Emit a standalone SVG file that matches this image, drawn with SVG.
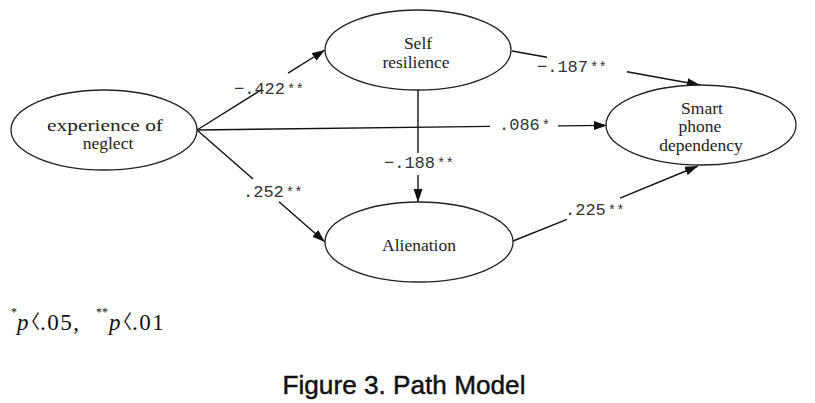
<svg xmlns="http://www.w3.org/2000/svg" width="815" height="403" viewBox="0 0 815 403">
<style>
.node ellipse{fill:#fff;stroke:#222;stroke-width:1.3}
.nl{font-family:"Liberation Serif","Times New Roman",serif;font-size:17.5px;fill:#222;text-anchor:middle}
.edge line{stroke:#111;stroke-width:1.4}
.el{font-family:"Liberation Mono","Courier New",monospace;font-size:17px;fill:#333}
.ast{font-size:14px}
.fn{font-family:"Liberation Serif","Times New Roman",serif;font-size:23px;fill:#111}
.sup{font-size:12px}
.br{font-family:"Noto Sans CJK KR","Noto Sans CJK SC",sans-serif;font-size:19px;font-feature-settings:"halt"}
.cap{font-family:"Liberation Sans",Arial,sans-serif;font-size:25px;fill:#111;stroke:#111;stroke-width:0.45;text-anchor:middle}
</style>
<defs>
<marker id="ah" markerUnits="userSpaceOnUse" markerWidth="14" markerHeight="10" refX="13" refY="5" orient="auto">
<path d="M0,0.5 L13,5 L0,9.5 z" fill="#111"/>
</marker>
</defs>
<g id="connectors" class="edge">
<line x1="197" y1="130" x2="262" y2="89.4"/>
<line x1="288" y1="73.1" x2="325" y2="50" marker-end="url(#ah)"/>
<line x1="197" y1="130" x2="253" y2="179"/>
<line x1="279" y1="201.8" x2="325" y2="242" marker-end="url(#ah)"/>
<line x1="197" y1="130" x2="490" y2="126.4"/>
<line x1="558" y1="125.9" x2="607" y2="125.4" marker-end="url(#ah)"/>
<line x1="418" y1="90" x2="418" y2="153"/>
<line x1="418" y1="175" x2="418" y2="202" marker-end="url(#ah)"/>
<line x1="512" y1="51" x2="547" y2="57.3"/>
<line x1="627" y1="71.8" x2="700" y2="85" marker-end="url(#ah)"/>
<line x1="513" y1="241" x2="567" y2="219.4"/>
<line x1="620" y1="198.2" x2="698" y2="166" marker-end="url(#ah)"/>
<text class="el" x="234" y="94">−.422<tspan class="ast" dx="2">**</tspan></text>
<text class="el" x="243" y="197">.252<tspan class="ast" dx="2">**</tspan></text>
<text class="el" x="499" y="130">.086<tspan class="ast" dx="2">*</tspan></text>
<text class="el" x="384" y="168">−.188<tspan class="ast" dx="2">**</tspan></text>
<text class="el" x="537" y="72">−.187<tspan class="ast" dx="2">**</tspan></text>
<text class="el" x="565" y="215">.225<tspan class="ast" dx="2">**</tspan></text>
</g>
<g id="node-neglect" class="node">
<ellipse cx="104" cy="130" rx="93" ry="40"/>
<text class="nl" x="105" y="131" textLength="116" lengthAdjust="spacingAndGlyphs">experience of</text>
<text class="nl" x="108" y="149">neglect</text>
</g>
<g id="node-self" class="node">
<ellipse cx="418" cy="50" rx="93" ry="40"/>
<text class="nl" x="418" y="49">Self</text>
<text class="nl" x="416" y="68">resilience</text>
</g>
<g id="node-smart" class="node">
<ellipse cx="701" cy="125" rx="95" ry="40"/>
<text class="nl" x="702" y="114">Smart</text>
<text class="nl" x="700" y="132">phone</text>
<text class="nl" x="701" y="151">dependency</text>
</g>
<g id="node-alienation" class="node">
<ellipse cx="419" cy="242" rx="94" ry="40"/>
<text class="nl" x="419" y="251">Alienation</text>
</g>
<g id="footnote">
<text class="fn" x="11" y="316"><tspan class="sup">*</tspan><tspan font-style="italic" x="17" y="330">p</tspan><tspan class="br" dx="2" y="329">〈</tspan><tspan y="330" letter-spacing="1.5">.05,</tspan><tspan class="sup" x="96" y="316">**</tspan><tspan font-style="italic" x="109" y="330">p</tspan><tspan class="br" dx="2" y="329">〈</tspan><tspan y="330" letter-spacing="1.5">.01</tspan></text>
</g>
<text class="cap" x="404" y="394" textLength="243" lengthAdjust="spacingAndGlyphs">Figure 3. Path Model</text>
</svg>
